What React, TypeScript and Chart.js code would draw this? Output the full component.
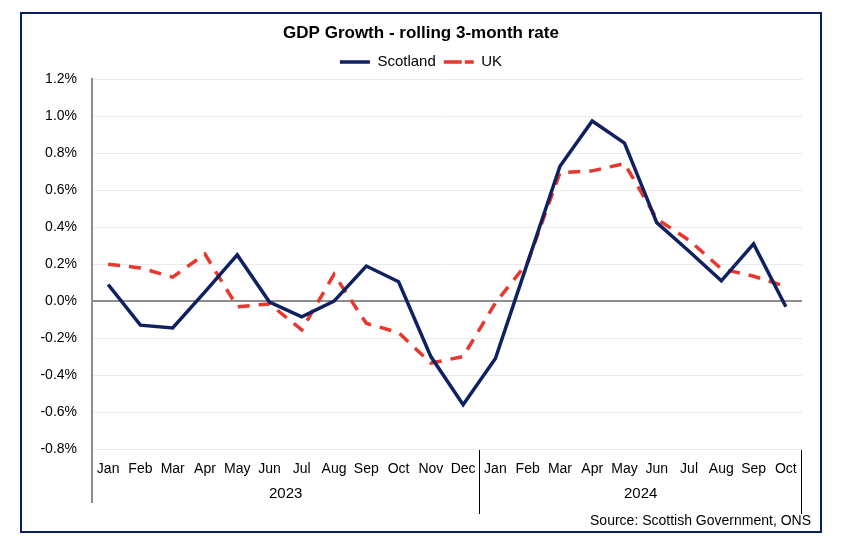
import React, { useEffect, useRef } from "react";
import { Chart, registerables } from "chart.js";

Chart.register(...registerables);

const months = ["Jan", "Feb", "Mar", "Apr", "May", "Jun", "Jul", "Aug", "Sep", "Oct", "Nov", "Dec",
  "Jan", "Feb", "Mar", "Apr", "May", "Jun", "Jul", "Aug", "Sep", "Oct"];
const years = ["2023", "2024"];
const yearCounts = [12, 10];
const scotland = [0.09, -0.13, -0.145, 0.05, 0.25, -0.005, -0.085, 0.0, 0.19, 0.105, -0.30, -0.56,
  -0.31, 0.21, 0.73, 0.975, 0.855, 0.425, 0.27, 0.11, 0.31, -0.03];
const uk = [0.20, 0.18, 0.13, 0.255, -0.03, -0.015, -0.155, 0.145, -0.12, -0.17, -0.335, -0.30,
  -0.01, 0.21, 0.695, 0.705, 0.745, 0.445, 0.33, 0.175, 0.135, 0.08];
const sourceText = "Source: Scottish Government, ONS";

const FONT = "'Liberation Sans', Arial, sans-serif";
const NAVY = "#0f2161";
const RED = "#e8372c";

const extrasPlugin = {
  id: "extras",
  afterDraw(chart: any) {
    const { ctx, chartArea, scales } = chart;
    const x = scales.x;
    ctx.save();
    // outer border
    ctx.strokeStyle = "#0b215e";
    ctx.lineWidth = 2;
    ctx.strokeRect(21, 13, 800, 519);
    // left axis extension
    ctx.strokeStyle = "#8c8c8c";
    ctx.lineWidth = 2;
    ctx.beginPath();
    ctx.moveTo(chartArea.left, chartArea.bottom);
    ctx.lineTo(chartArea.left, 503);
    ctx.stroke();
    // year separators and labels
    ctx.strokeStyle = "#000";
    ctx.lineWidth = 1;
    ctx.fillStyle = "#000";
    ctx.font = `15px ${FONT}`;
    ctx.textAlign = "center";
    ctx.textBaseline = "middle";
    let start = 0;
    const step = x.getPixelForValue(1) - x.getPixelForValue(0);
    years.forEach((yr, i) => {
      const n = yearCounts[i];
      const left = x.getPixelForValue(start) - step / 2;
      const right = x.getPixelForValue(start + n - 1) + step / 2;
      if (i > 0) {
        ctx.beginPath();
        ctx.moveTo(Math.round(left) + 0.5, 450);
        ctx.lineTo(Math.round(left) + 0.5, 514);
        ctx.stroke();
      }
      if (i === years.length - 1) {
        ctx.beginPath();
        ctx.moveTo(Math.round(right) - 0.5, 450);
        ctx.lineTo(Math.round(right) - 0.5, 514);
        ctx.stroke();
      }
      ctx.fillText(yr, (left + right) / 2, 494);
      start += n;
    });
    // source
    ctx.font = `14px ${FONT}`;
    ctx.textAlign = "right";
    ctx.fillText(sourceText, 811, 521);
    ctx.restore();
  },
};

export default function App() {
  const ref = useRef<HTMLCanvasElement>(null);
  useEffect(() => {
    if (!ref.current) return;
    const chart = new Chart(ref.current, {
      type: "line",
      data: {
        labels: months,
        datasets: [
          {
            label: "Scotland",
            data: scotland,
            borderColor: NAVY,
            backgroundColor: NAVY,
            borderWidth: 3.5,
            pointRadius: 0,
            tension: 0,
          },
          {
            label: "UK",
            data: uk,
            borderColor: RED,
            backgroundColor: RED,
            borderWidth: 3.5,
            borderDash: [12, 9],
            pointRadius: 0,
            tension: 0,
          },
        ],
      },
      options: {
        responsive: false,
        animation: false,
        layout: { padding: { left: 40, right: 48, top: 0, bottom: 0 } },
        plugins: {
          title: {
            display: true,
            text: "GDP Growth - rolling 3-month rate",
            color: "#000",
            font: { family: FONT, size: 17, weight: "bold" },
            padding: { top: 23, bottom: 3 },
          },
          legend: {
            display: true,
            labels: {
              color: "#000",
              font: { family: FONT, size: 15 },
              boxWidth: 30,
              boxHeight: 0,
              padding: 8,
            },
          },
          tooltip: { enabled: false },
        },
        scales: {
          x: {
            offset: true,
            grid: { display: false, drawTicks: false, offset: true },
            border: { display: false },
            ticks: {
              color: "#000",
              font: { family: FONT, size: 14 },
              padding: 12,
              maxRotation: 0,
              autoSkip: false,
            },
            afterFit(scale: any) {
              scale.height = 546 - 449;
            },
          },
          y: {
            min: -0.8,
            max: 1.2,
            grid: {
              drawTicks: false,
              color: (c: any) => (c.tick && Math.abs(c.tick.value) < 1e-9 ? "#8c8c8c" : "#ebebeb"),
              lineWidth: (c: any) => (c.tick && Math.abs(c.tick.value) < 1e-9 ? 2 : 1),
            },
            border: { display: true, color: "#8c8c8c", width: 2 },
            ticks: {
              stepSize: 0.2,
              color: "#000",
              font: { family: FONT, size: 14 },
              padding: 15,
              callback: (v: any) => `${Number(v).toFixed(1)}%`,
            },
            afterFit(scale: any) {
              scale.width = 52;
            },
          },
        },
      },
      plugins: [extrasPlugin],
    });
    return () => chart.destroy();
  }, []);
  return (
    <div style={{ position: "absolute", left: 0, top: 0, width: 850, height: 546, background: "#fff" }}>
      <canvas ref={ref} width={850} height={546} style={{ display: "block" }} />
    </div>
  );
}
